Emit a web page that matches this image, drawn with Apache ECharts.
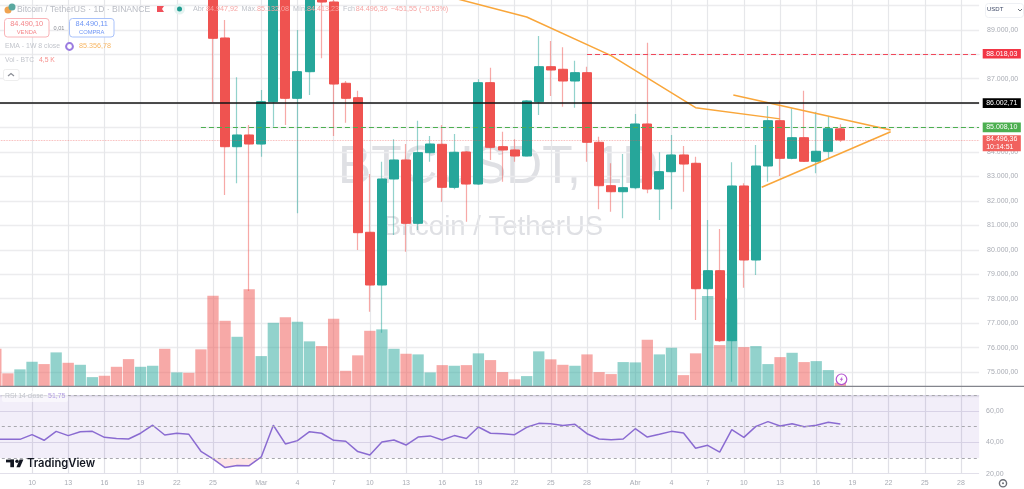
<!DOCTYPE html>
<html><head><meta charset="utf-8">
<style>html,body{margin:0;padding:0;background:#fff}#c{width:1024px;height:489px}</style>
<script src="https://cdn.jsdelivr.net/npm/echarts@6/dist/echarts.min.js"></script>
</head><body><div id="c"></div>
<script>
const categories = ["7 Feb","8 Feb","9 Feb","10 Feb","11 Feb","12 Feb","13 Feb","14 Feb","15 Feb","16 Feb","17 Feb","18 Feb","19 Feb","20 Feb","21 Feb","22 Feb","23 Feb","24 Feb","25 Feb","26 Feb","27 Feb","28 Feb",
"1 Mar","2 Mar","3 Mar","4 Mar","5 Mar","6 Mar","7 Mar","8 Mar","9 Mar","10 Mar","11 Mar","12 Mar","13 Mar","14 Mar","15 Mar","16 Mar","17 Mar","18 Mar","19 Mar","20 Mar","21 Mar","22 Mar","23 Mar","24 Mar","25 Mar","26 Mar","27 Mar","28 Mar","29 Mar","30 Mar","31 Mar",
"1 Abr","2 Abr","3 Abr","4 Abr","5 Abr","6 Abr","7 Abr","8 Abr","9 Abr","10 Abr","11 Abr","12 Abr","13 Abr","14 Abr","15 Abr","16 Abr","17 Abr","18 Abr","19 Abr","20 Abr","21 Abr","22 Abr","23 Abr","24 Abr","25 Abr","26 Abr","27 Abr","28 Abr","29 Abr"];
const tickIdx  = [3,6,9,12,15,18,22,25,28,31,34,37,40,43,46,49,53,56,59,62,65,68,71,74,77,80];
const tickText = ["10","13","16","19","22","25","Mar","4","7","10","13","16","19","22","25","28","Abr","4","7","10","13","16","19","22","25","28"];
const hiddenPriceTicks = [74000,85000,86000,88000,90000,91000];

// candles from 25 Feb to 18 Abr
const firstCandle = 18;
const opens  = [91446,88665,84219,84698,84329,86059,91446,86199,87287,91037,90137,86812,86223,80718,78562,82898,83675,81086,83974,84317,82558,84002,82693,86837,84219,84084,83839,86059,87491,87385,86906,87246,84399,82624,82378,82542,85147,82489,83197,83880,83540,78411,79147,76285,82612,79585,83430,85282,83744,84587,83622,84031,84947.92];
const closes = [88653,84219,84698,84329,86059,91446,86199,87287,91037,90137,86783,86199,80702,78562,82898,83675,81086,83974,84329,82558,83990,82693,86837,84194,84084,83839,86088,87491,87356,86906,87246,84399,82624,82378,82542,85147,82489,83197,83880,83511,78411,79147,76285,82612,79585,83430,85282,83744,84587,83622,84031,84955,84496.36];
const lows   = [86047,82243,82722,78317,83810,85037,85107,81495,86334,87835,84657,85200,79994,77471,76612,80607,79925,80812,83606,81969,82477,81152,82652,83675,82787,83606,83818,85516,86293,85855,85814,83606,81659,81561,81291,82477,82313,81221,81659,82378,77131,74473,76231,74607,78452,78971,82787,83021,83704,83593,83131,83704,84413.23];
const highs  = [91855,89401,87057,85107,86538,91855,91855,88992,91446,91446,90628,86906,86509,83102,83605,84522,84329,85282,84657,85107,84738,84043,86976,87450,84832,84522,86129,88747,88542,88284,87736,87491,84628,83540,83920,85556,88473,83990,84698,84248,83810,81221,80853,83581,82722,84289,85883,86100,85790,86509,85651,85475,85132.08];

const volumes = [47,16.3,21.3,30.8,27.9,42.5,29.5,27,11.6,13.3,24.5,34.1,24.5,25.8,47,17.5,17,46.3,113.3,82,62,121.3,37.9,79.5,86.3,80.8,56.3,50.4,84.5,19.5,38.8,69.5,71.3,47,40.8,40,17.5,26.6,25.8,26.6,41.3,32.9,17.9,8.8,12.9,43.8,33.8,27,25.8,40,17.9,15.4,30.4,30,58.3,40,48.3,14.1,41.3,112.9,51.6,108.8,49.1,50.4,27.9,36.6,42,30.4,31.6,20.4,4.5];
const volUp   = [0,0,1,1,0,1,0,1,1,0,0,0,1,1,0,1,0,0,0,0,1,0,1,1,0,1,1,0,0,0,0,0,1,1,0,1,1,0,1,0,1,0,0,0,1,1,0,0,1,0,0,0,1,1,0,1,1,0,0,1,0,1,0,1,1,0,1,0,1,1,0];

const rsi = [41.9,41.9,41.9,44.9,41.3,47,44.3,46.8,47,43.2,42.4,42.1,45.8,50.9,44.7,45.8,45.1,34.3,29.4,23.9,25.3,25.1,30.7,50.9,39,41.1,46.8,45.8,41.3,40.7,34.1,31.9,40.2,41.5,38.3,43.4,44.1,41.5,44.3,42.4,49.8,45.8,45.5,44.9,49.6,52.1,51.9,50.7,51.5,45.5,42.1,41.7,42.1,48.7,43.4,45.1,47,46,36.2,38.1,33.8,48.1,43.2,50.2,53.2,50.4,51.9,50,50.9,52.8,51.75];

const emaDays = [37,44,51,58,65];
const emaVals = [90423,89524,87941,85814,85357];
const triUpperDays = [61.13,74.17];
const triUpperVals = [86333,84902];
const triLowerDays = [63.48,74.17];
const triLowerVals = [82558,84832];

const alertPrice = 88018.03, blackPrice = 86002.71, greenPrice = 85008.10, lastPrice = 84496.36;
const alertStart = 49, greenStart = 17;

const GREEN='#26a69a', RED='#ef5350', LBL='#a9acb4';
const FONT='"Liberation Sans",Arial,sans-serif';
const fmt = v => v.toLocaleString('de-DE',{minimumFractionDigits:2,maximumFractionDigits:2});
const pad = n => Array.from({length:n},()=>['-','-','-','-']);
const tail = categories.length-firstCandle-opens.length;
const wickData = pad(firstCandle).concat(opens.map((o,i)=>[o,closes[i],lows[i],highs[i]]),pad(tail));
const bodyData = pad(firstCandle).concat(opens.map((o,i)=>[o,closes[i],Math.min(o,closes[i]),Math.max(o,closes[i])]),pad(tail));
const tickSet = new Set(tickIdx);
const GL='#ececee';
const left=-10.2,width=989.3;

const level=(y0,color,type,w,start,text,bg,opts)=>[{
  coord:[start,y0],lineStyle:{color,type,width:w},
  label:Object.assign({show:true,position:'end',distance:3.6,formatter:text,color:'#fff',backgroundColor:bg,padding:[1,3.5],fontSize:7,lineHeight:7.6,fontFamily:FONT},opts||{})
},{coord:[81.5,y0]}];

const txt=(x,y,t,fill,size,o)=>({type:'text',x,y,z:50,silent:true,style:Object.assign({text:t,fill,font:`${size||7}px ${FONT}`,textVerticalAlign:'middle'},o||{})});
const rect=(x,y,w,h,r,fill,stroke,z)=>({type:'rect',z:z||49,silent:true,shape:{x,y,width:w,height:h,r},style:{fill,stroke,lineWidth:1}});

const graphics=[
 // watermark
 {type:'text',x:338,y:168,z:-1,silent:true,scaleX:.92,style:{text:'BTCUSDT, 1D',fill:'#dfe0e4',font:`54px ${FONT}`,textVerticalAlign:'middle'}},
 {type:'text',x:383,y:227,z:-1,silent:true,style:{text:'Bitcoin / TetherUS',fill:'#dfe0e4',font:`27.5px ${FONT}`,textVerticalAlign:'middle'}},
 // header
 {type:'circle',z:49,silent:true,shape:{cx:8,cy:10,r:3.5},style:{fill:'#f0a350'}},
 {type:'circle',z:49,silent:true,shape:{cx:12,cy:7,r:3.5},style:{fill:'#5aa8a0'}},
 txt(17,9.3,'Bitcoin / TetherUS · 1D · BINANCE','#b9bcc4',8.6),
 {type:'polygon',z:49,silent:true,shape:{points:[[157,6],[164,6],[162,9],[164,12],[157,12]]},style:{fill:'#f0505a'}},
 {type:'circle',z:49,silent:true,shape:{cx:179.5,cy:9,r:5.5},style:{fill:'#e4f3f1'}},
 {type:'circle',z:49,silent:true,shape:{cx:179.5,cy:9,r:2.5},style:{fill:'#1e9b8f'}},
 txt(193,9.3,'Abr','#bfc2c9',7.2), txt(206,9.3,'84.947,92','#f6a5a3',7.2),
 txt(241.5,9.3,'Máx.','#bfc2c9',7.2), txt(257,9.3,'85.132,08','#f6a5a3',7.2),
 txt(293,9.3,'Mín.','#bfc2c9',7.2), txt(307,9.3,'84.413,23','#f6a5a3',7.2),
 txt(343,9.3,'Fch','#bfc2c9',7.2), txt(355.7,9.3,'84.496,36','#f6a5a3',7.2),
 txt(390.7,9.3,'−451,55 (−0,53%)','#f6a5a3',7.2),
 rect(4.5,18.5,44.5,18.5,3,'rgba(255,255,255,.9)','#f9b4b8'),
 txt(26.7,24,'84.490,10','#f4868a',7.4,{textAlign:'center'}), txt(26.7,32.3,'VENDA','#f4868a',5.8,{textAlign:'center'}),
 txt(59,28,'0,01','#8a8d95',5.6,{textAlign:'center'}),
 rect(69.5,18.5,44.5,18.5,3,'rgba(255,255,255,.9)','#a9c2fb'),
 txt(91.7,24,'84.490,11','#6f96f5',7.4,{textAlign:'center'}), txt(91.7,32.3,'COMPRA','#6f96f5',5.8,{textAlign:'center'}),
 txt(5,46.5,'EMA - 1W 8 close','#c2c5cc',6.9),
 {type:'circle',z:49,silent:true,shape:{cx:69.5,cy:46.5,r:3.4},style:{fill:'#fff',stroke:'#9a7be0',lineWidth:2}},
 txt(79,46.5,'85.356,78','#f8b765',7.2),
 txt(5,60,'Vol - BTC','#c2c5cc',6.8), txt(39,60,'4,5 K','#f6908d',6.8),
 rect(3.5,69.5,15.5,11,2,'rgba(255,255,255,.9)','#eeeeee'),
 {type:'polyline',z:50,silent:true,shape:{points:[[8,76],[11,73.5],[14,76]]},style:{stroke:'#8a8d95',fill:null,lineWidth:1.2}},
 // USDT button
 rect(985.5,3.5,38,14,3,'#fff','#eef0f4'),
 txt(987,9.6,'USDT','#3f4a68',6),
 {type:'polyline',z:50,silent:true,shape:{points:[[1018,9],[1020,11],[1022,9]]},style:{stroke:'#70757f',fill:null,lineWidth:1}},
 // pane separator
 {type:'line',z:40,silent:true,shape:{x1:0,y1:386.4,x2:1024,y2:386.4},style:{stroke:'#83858d',lineWidth:1.3}},
 // lightning
 {type:'circle',z:50,silent:true,shape:{cx:841.5,cy:379.3,r:5.3},style:{fill:'#fff',stroke:'#b455d0',lineWidth:1.2}},
 {type:'polygon',z:51,silent:true,shape:{points:[[842.6,376.3],[839.8,379.8],[841.4,379.8],[840.4,382.3],[843.2,378.8],[841.6,378.8]]},style:{fill:'#b455d0'}},
 // RSI legend
 rect(2,391,66,11,2,'rgba(255,255,255,.55)',null),
 txt(5,396.5,'RSI 14 close','#c2c5cc',6.8), txt(48,396.5,'51,75','#b49fe3',7),
 // logo
 {type:'rect',z:50,silent:true,shape:{x:6,y:459.6,width:8,height:2.8},style:{fill:'#131722'}},
 {type:'rect',z:50,silent:true,shape:{x:10.3,y:459.6,width:3.7,height:7.6},style:{fill:'#131722'}},
 {type:'circle',z:50,silent:true,shape:{cx:17,cy:461.2,r:1.7},style:{fill:'#131722'}},
 {type:'polygon',z:50,silent:true,shape:{points:[[19.6,459.6],[23.4,459.6],[20,467.2],[16.4,467.2]]},style:{fill:'#131722'}},
 txt(27,464,'TradingView','#131722',11.2,{font:`600 11.2px Inter,${FONT}`}),
 // gear
 {type:'circle',z:50,silent:true,shape:{cx:1003,cy:483.3,r:3.6},style:{fill:'#fff',stroke:'#6d7078',lineWidth:1.4}},
 {type:'circle',z:50,silent:true,shape:{cx:1003,cy:483.3,r:1},style:{fill:'#6d7078'}},
];

const option={
 animation:false,
 backgroundColor:'#fff',
 grid:[
  {left,width,top:-19.1,height:415.65,show:false,outerBoundsMode:'none'},
  {left,width,top:266.4,height:120,show:false,outerBoundsMode:'none'},
  {left,width,top:395.3,height:78.4,show:false,outerBoundsMode:'none'}
 ],
 graphic:{elements:graphics},
 xAxis:[
  {type:'category',gridIndex:0,data:categories,axisLine:{show:false},axisTick:{show:false},axisLabel:{show:false},
   splitLine:{show:true,alignWithLabel:true,interval:i=>tickSet.has(i),lineStyle:{color:'#e6e7ea',width:1.2}}},
  {type:'category',gridIndex:1,data:categories,show:false},
  {type:'category',gridIndex:2,data:categories,axisLine:{show:false},axisTick:{show:false},
   axisLabel:{color:LBL,fontSize:7,fontFamily:FONT,margin:5.5,hideOverlap:false,interval:i=>tickSet.has(i),
     formatter:(v,i)=>tickText[tickIdx.indexOf(i)]},
   splitLine:{show:true,alignWithLabel:true,interval:i=>tickSet.has(i),lineStyle:{color:'#e0e0e6',width:1.2}}},
  {type:'value',gridIndex:0,min:-0.5,max:81.5,show:false,splitLine:{show:false}}
 ],
 yAxis:[
  {type:'value',gridIndex:0,position:'right',min:74000,max:91000,interval:1000,axisLine:{show:false},axisTick:{show:false},
   axisLabel:{color:LBL,fontSize:7,fontFamily:FONT,margin:8,showMinLabel:false,formatter:v=>hiddenPriceTicks.includes(v)?'':fmt(v)},
   splitLine:{show:true,lineStyle:{color:GL,width:1.3}}},
  {type:'value',gridIndex:1,min:0,max:150,show:false},
  {type:'value',gridIndex:2,position:'right',min:20,max:70,interval:20,axisLine:{show:false},axisTick:{show:false},
   axisLabel:{color:LBL,fontSize:7,fontFamily:FONT,margin:7,formatter:v=>v===70?'':fmt(v)},
   splitLine:{show:true,lineStyle:{color:'#e2e0ea',width:1.2}}}
 ],
 series:[
  {type:'bar',name:'Vol',xAxisIndex:1,yAxisIndex:1,z:1,barWidth:11.3,
   data:volumes.map((v,i)=>({value:v,itemStyle:{color:volUp[i]?'rgba(38,166,154,.5)':'rgba(239,83,80,.5)'}}))},
  {type:'candlestick',name:'wicks',xAxisIndex:0,yAxisIndex:0,z:3,barWidth:2,data:wickData,
   itemStyle:{color:'rgba(38,166,154,.5)',color0:'rgba(239,83,80,.5)',borderColor:'rgba(38,166,154,.5)',borderColor0:'rgba(239,83,80,.5)',borderWidth:1.2}},
  {type:'candlestick',name:'bodies',xAxisIndex:0,yAxisIndex:0,z:4,barWidth:9.5,data:bodyData,
   itemStyle:{color:GREEN,color0:RED,borderColor:GREEN,borderColor0:RED,borderWidth:1}},
  {type:'line',name:'EMA',xAxisIndex:3,yAxisIndex:0,z:5,symbol:'none',lineStyle:{color:'#f9a63a',width:1.5},data:emaDays.map((d,i)=>[d,emaVals[i]])},
  {type:'line',name:'triUpper',xAxisIndex:3,yAxisIndex:0,z:5,symbol:'none',lineStyle:{color:'#f9a63a',width:1.5},data:triUpperDays.map((d,i)=>[d,triUpperVals[i]])},
  {type:'line',name:'triLower',xAxisIndex:3,yAxisIndex:0,z:5,symbol:'none',lineStyle:{color:'#f9a63a',width:1.5},data:triLowerDays.map((d,i)=>[d,triLowerVals[i]])},
  {type:'line',name:'levels',xAxisIndex:3,yAxisIndex:0,z:2,symbol:'none',data:[],
   markLine:{silent:true,symbol:'none',animation:false,z:6,precision:2,data:[
     level(lastPrice,'rgba(239,83,80,.55)','dotted',0.8,-0.5,fmt(lastPrice)+'\n10:14:51','#f1615e',{verticalAlign:'top',offset:[0,-4.7],lineHeight:8,padding:[0,3.5]}),
     level(greenPrice,'#4caf50',[5,3],1.2,greenStart,fmt(greenPrice),'#4caf50'),
     level(blackPrice,'#131313','solid',1.6,-0.5,fmt(blackPrice),'#000'),
     level(alertPrice,'#f0485a',[5,3],1.2,alertStart,fmt(alertPrice),'#f23645')
   ]}},
  {type:'custom',name:'oversold',xAxisIndex:2,yAxisIndex:2,z:2,data:[0],
   renderItem:(p,api)=>{
     const idx=[18,19,20,21,22];
     const pts=idx.map(i=>api.coord([i,Math.min(rsi[i],30)]));
     pts.push(api.coord([22,30]),api.coord([18,30]));
     return {type:'polygon',shape:{points:pts},style:{fill:'rgba(242,54,69,.13)'}};
   }},
  {type:'line',name:'RSI',xAxisIndex:2,yAxisIndex:2,z:3,symbol:'none',lineStyle:{color:'#8a6bd1',width:1.5},data:rsi,
   markArea:{silent:true,itemStyle:{color:'rgba(126,87,194,.1)'},data:[[{yAxis:30},{yAxis:70}]]},
   markLine:{silent:true,symbol:'none',animation:false,label:{show:false},lineStyle:{color:'#a8a8ae',type:[3,3],width:1},
     data:[{yAxis:70},{yAxis:50},{yAxis:30}]}}
 ]
};
echarts.init(document.getElementById('c'),null,{renderer:'canvas'}).setOption(option);
</script></body></html>
